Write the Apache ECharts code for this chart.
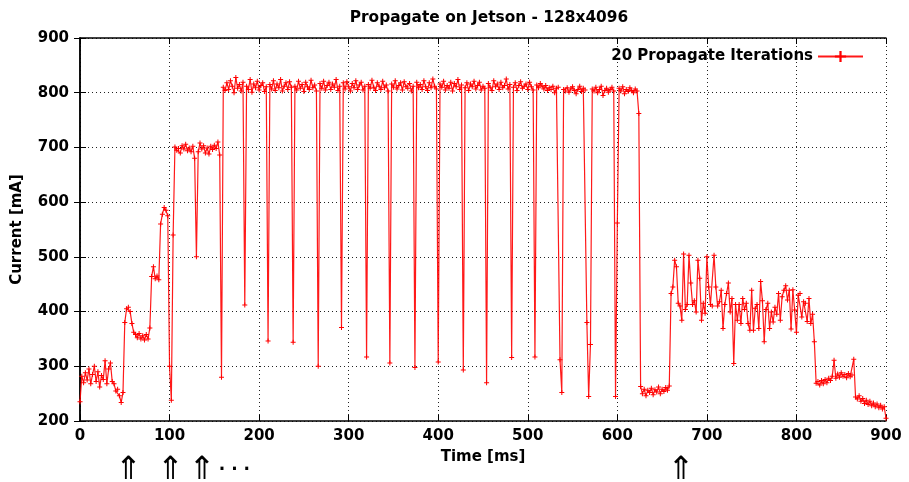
<!DOCTYPE html>
<html>
<head>
<meta charset="utf-8">
<script src="https://cdn.jsdelivr.net/npm/echarts@6/dist/echarts.min.js"></script>
<style>html,body{margin:0;padding:0;background:#fff}#c{width:909px;height:482px}</style>
</head>
<body>
<div id="c"></div>
<script>
// ---- data (time in ms, current in mA), sampled every 2 ms per phase ----
const sampleStepMs = 2;
const phaseStartMs = [0, 50, 106, 160, 626, 660, 776, 824];
const idleCurrent = [235, 282, 270, 288, 275, 295, 268, 285, 300, 272, 290, 262, 283, 276, 310, 268, 295, 306, 272, 268, 255, 258, 246, 234, 252];
const rampCurrent = [380, 405, 408, 400, 378, 362, 358, 352, 360, 350, 356, 348, 358, 350, 370, 464, 482, 460, 465, 458, 560, 578, 590, 585, 575, 300, 238, 540];
const setupCurrent = [701, 695, 698, 690, 703, 697, 706, 694, 699, 692, 702, 680, 500, 692, 708, 697, 703, 690, 699, 688, 702, 696, 704, 698, 710, 686, 280];
const propagateCurrent = [
  810, 804, 818, 806, 822, 812, 800, 828, 808, 815,
  803, 819, 412, 812, 806, 824, 801, 816, 809, 821,
  805, 813, 818, 802, 811, 346, 815, 807, 822, 804,
  816, 809, 824, 803, 812, 818, 806, 820, 810, 344,
  812, 805, 821, 808, 815, 802, 819, 811, 806, 823,
  809, 814, 803, 300, 817, 808, 821, 805, 813, 819,
  806, 816, 810, 824, 804, 812, 371, 818, 807, 820,
  811, 803, 817, 809, 822, 806, 814, 819, 805, 812,
  317, 815, 808, 823, 810, 804, 818, 812, 806, 821,
  809, 814, 803, 306, 816, 810, 822, 807, 813, 818,
  805, 820, 811, 808, 817, 803, 812, 298, 819, 809,
  815, 806, 822, 811, 804, 818, 809, 825, 812, 807,
  308, 816, 810, 821, 805, 813, 808, 819, 803, 817,
  811, 824, 806, 814, 293, 809, 818, 804, 816, 811,
  821, 807, 813, 819, 805, 812, 808, 270, 817, 810,
  804, 822, 811, 816, 806, 819, 809, 813, 825, 807,
  815, 316, 810, 818, 804, 813, 820, 808, 812, 816,
  806, 819, 811, 805, 317, 814, 809, 817, 812, 807,
  813, 804, 809, 806, 812, 800, 808, 810, 312, 252,
  806, 803, 809, 801, 807, 811, 804, 798, 806, 812,
  802, 808, 805, 380, 245, 340, 807, 803, 810, 800,
  806, 812, 795, 804, 808, 801, 806, 810, 803, 245,
  562, 808, 803, 811, 798, 806, 802, 809, 804, 800,
  807, 803, 762
];
const gapCurrent = [263, 250, 258, 246, 256, 252, 260, 248, 257, 253, 262, 250, 258, 254, 261, 256, 264];
const burstCurrent = [433, 445, 494, 482, 415, 410, 384, 505, 404, 413, 503, 452, 413, 420, 399, 494, 461, 384, 415, 397,
  500, 445, 413, 410, 503, 445, 410, 418, 439, 369, 413, 433, 452, 399, 424, 305, 413, 384, 413, 378,
  424, 404, 415, 378, 366, 439, 366, 406, 413, 369, 455, 420, 345, 404, 415, 369, 399, 381];
const burstTailCurrent = [408, 395, 433, 384, 427, 439, 447, 421, 439, 368, 440, 403, 362, 430, 433, 390, 418, 415, 382, 424, 378, 395, 345, 269];
const cooldownCurrent = [272, 266, 274, 268, 276, 270, 278, 274, 282, 311, 278, 286, 280, 288, 282, 285, 279, 287, 281, 284,
  313, 244, 240, 246, 236, 241, 232, 238, 230, 236, 228, 233, 226, 231, 224, 229, 222, 226, 205];
const phases = [idleCurrent, rampCurrent, setupCurrent, propagateCurrent, gapCurrent, burstCurrent, burstTailCurrent, cooldownCurrent];

const xTicks = { min: 0, max: 900, interval: 100 };
const yTicks = { min: 200, max: 900, interval: 100 };
const markerTimesMs = [54, 101, 136, 671];
const seriesName = '20 Propagate Iterations';

const points = [];
phases.forEach((vals, p) => vals.forEach((v, i) => points.push([phaseStartMs[p] + i * sampleStepMs, v])));

const FONT = 'DejaVu Sans';
const chart = echarts.init(document.getElementById('c'), null, { renderer: 'canvas' });
const grid = { left: 80, right: 23, top: 38, bottom: 61 };
const splitDotted = { show: true, lineStyle: { color: '#222', width: 1, type: [1, 3] } };
const tickIn = { show: true, inside: true, length: 6, lineStyle: { color: '#000', width: 1 } };
const axisLn = { show: true, lineStyle: { color: '#000', width: 1.5 } };
const lbl = { fontFamily: FONT, fontWeight: 'bold', fontSize: 15, color: '#000' };

chart.setOption({
  animation: false,
  backgroundColor: '#fff',
  title: {
    text: 'Propagate on Jetson - 128x4096',
    left: 484, top: 5, textAlign: 'center',
    textStyle: { fontFamily: FONT, fontWeight: 'bold', fontSize: 15.4, color: '#000' }
  },
  legend: {
    right: 40, top: 44,
    itemWidth: 45, itemHeight: 14, align: 'right', itemGap: 10,
    textStyle: { fontFamily: FONT, fontWeight: 'bold', fontSize: 15, color: '#000' },
    data: [seriesName]
  },
  grid: grid,
  xAxis: [
    { type: 'value', position: 'bottom', min: xTicks.min, max: xTicks.max, interval: xTicks.interval,
      name: 'Time [ms]', nameLocation: 'middle', nameGap: 29,
      nameTextStyle: lbl,
      axisLine: axisLn, axisTick: tickIn,
      axisLabel: Object.assign({ margin: 8 }, lbl),
      splitLine: splitDotted },
    { type: 'value', position: 'top', min: xTicks.min, max: xTicks.max, interval: xTicks.interval,
      axisLine: axisLn, axisTick: tickIn, axisLabel: { show: false }, splitLine: { show: false } }
  ],
  yAxis: [
    { type: 'value', position: 'left', min: yTicks.min, max: yTicks.max, interval: yTicks.interval,
      name: 'Current [mA]', nameLocation: 'middle', nameGap: 55,
      nameTextStyle: lbl,
      axisLine: axisLn, axisTick: tickIn,
      axisLabel: Object.assign({ margin: 11 }, lbl),
      splitLine: splitDotted },
    { type: 'value', position: 'right', min: yTicks.min, max: yTicks.max, interval: yTicks.interval,
      axisLine: axisLn, axisTick: tickIn, axisLabel: { show: false }, splitLine: { show: false } }
  ],
  series: [{
    name: seriesName,
    type: 'line',
    data: points,
    xAxisIndex: 0, yAxisIndex: 0,
    showAllSymbol: true,
    symbol: 'path://M2,0H3V2H5V3H3V5H2V3H0V2H2Z',
    symbolSize: 5,
    lineStyle: { color: 'rgba(255,0,0,0.9)', width: 1.2 },
    itemStyle: { color: '#ff0000' },
    emphasis: { disabled: true }
  }]
});

const arrowGraphics = markerTimesMs.map(t => ({
  type: 'text',
  x: chart.convertToPixel({ xAxisIndex: 0 }, t),
  y: 455,
  style: { text: '\u21D1', fontFamily: FONT, fontSize: 32, fill: '#000', align: 'center', verticalAlign: 'top' }
}));
arrowGraphics.push({
  type: 'text',
  x: chart.convertToPixel({ xAxisIndex: 0 }, markerTimesMs[2]) + 17,
  y: 462,
  style: { text: '\u00B7 \u00B7 \u00B7', fontFamily: FONT, fontSize: 17, fontWeight: 'bold', fill: '#000', align: 'left', verticalAlign: 'top' }
});
chart.setOption({ graphic: arrowGraphics });
</script>
</body>
</html>
